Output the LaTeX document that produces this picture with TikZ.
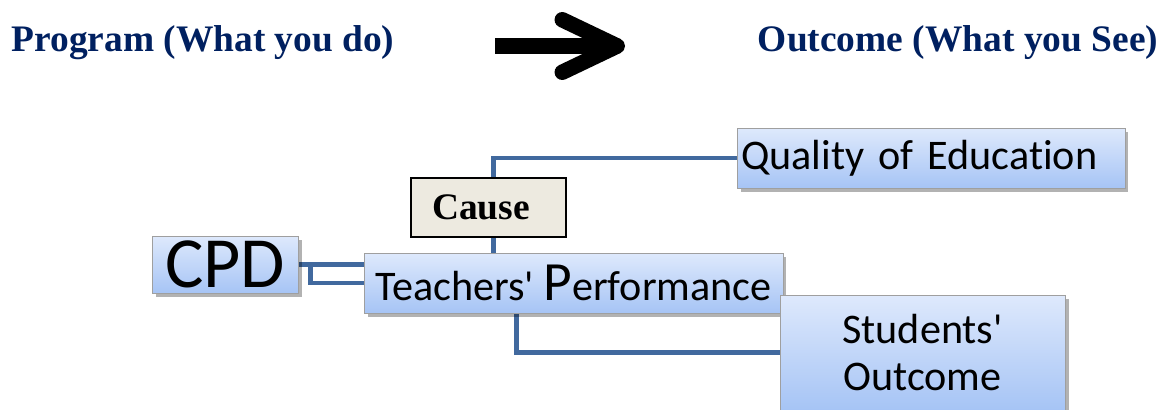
\documentclass[tikz,border=0pt]{standalone}
\usepackage{fontspec}
\setmainfont{Liberation Serif}
\newfontfamily\calibri[Ligatures=NoCommon]{Carlito}
\usetikzlibrary{positioning}
\usetikzlibrary{shadows}
\usetikzlibrary{backgrounds}
\usetikzlibrary{arrows.meta}
\definecolor{navy}{RGB}{0,32,96}
\definecolor{linkblue}{RGB}{65,105,158}
\definecolor{boxtop}{RGB}{222,233,252}
\definecolor{boxbot}{RGB}{166,196,245}
\definecolor{causefill}{RGB}{237,234,224}
\tikzset{>=stealth}
\tikzset{
  bluebox/.style={draw=gray!75, top color=boxtop, bottom color=boxbot, inner sep=0pt,
    drop shadow={shadow xshift=2pt, shadow yshift=-2pt, opacity=0.3, fill=black}},
  link/.style={draw=linkblue, line width=2.8pt},
  title/.style={font=\bfseries\fontsize{21.3}{25}\selectfont, text=navy},
  boxtext/.style={font=\calibri\fontsize{24}{27}\selectfont}
}

\begin{document}
\begin{tikzpicture}[x=0.02cm, y=-0.02cm]
        \useasboundingbox (0,0) rectangle (1169,409);
        \clip (0,0) rectangle (1169,409);
        % headings and the big arrow
        \node[title] (prog) at (203,43) {Program (What you do)};
        \node[title] (outc) at (958,43) {Outcome (What you See)};
        \coordinate (tail) at (495,46);
        \coordinate (tip) at (625,46);
        \draw[line width=0.31cm, -{Straight Barb[length=1.1cm, width=1.05cm, line cap=round, line join=round]}] (tail) -- (tip);
        % boxes
        \node[bluebox, minimum width=2.92cm, minimum height=1.14cm, font=\calibri\fontsize{41}{42}\selectfont] (cpd) at (225,264.5) {CPD};
        \node[bluebox, boxtext, minimum width=8.38cm, minimum height=1.2cm] (teach) at (573.5,283) {Teachers' {\fontsize{31.5}{32}\selectfont P}erformance};
        \node[bluebox, boxtext, minimum width=7.76cm, minimum height=1.2cm, text width=7.6cm, align=left] (qual) at (931,158) {Quality of Education};
        \node[bluebox, boxtext, minimum width=5.7cm, minimum height=2.3cm, align=center] (stud) at (922.5,352.5) {Students'\\Outcome};
        \node[draw=black, fill=causefill, line width=0.8pt, inner sep=0pt, minimum width=3.1cm, minimum height=1.18cm, font=\bfseries\fontsize{21.3}{25}\selectfont] (cause) at (488.5,207.5) {Cause\kern0.3cm};
        % connectors behind the boxes
        \begin{scope}[on background layer]
            \draw[link] ([xshift=2.6cm]teach.north west) |- (qual.west);
            \draw[link] ([xshift=3.06cm]teach.south west) |- (stud.west);
            \draw[link] (cpd.east) -- (cpd.east -| teach.west);
            \draw[link] ([xshift=0.24cm]cpd.east) |- (teach.west);
        \end{scope}
    \end{tikzpicture}
\end{document}
